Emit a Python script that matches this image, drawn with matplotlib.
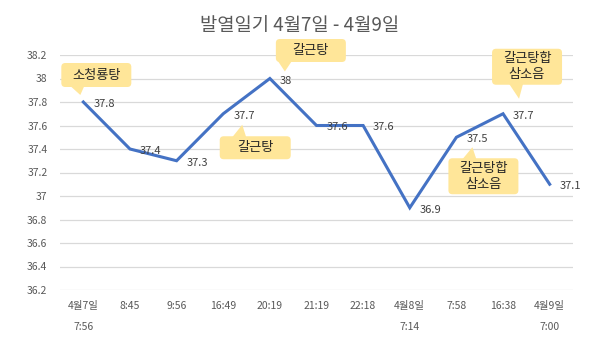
import matplotlib
matplotlib.use("Agg")
import matplotlib.pyplot as plt
from matplotlib.transforms import ScaledTranslation
from matplotlib.patches import FancyBboxPatch, Polygon

plt.rcParams['font.family'] = ['Noto Sans CJK KR', 'DejaVu Sans']

title = "발열일기 4월7일 - 4월9일"
categories = ["4월7일\n7:56", "8:45", "9:56", "16:49", "20:19", "21:19",
              "22:18", "4월8일\n7:14", "7:58", "16:38", "4월9일\n7:00"]
values = [37.8, 37.4, 37.3, 37.7, 38.0, 37.6, 37.6, 36.9, 37.5, 37.7, 37.1]
yticks = [36.2, 36.4, 36.6, 36.8, 37.0, 37.2, 37.4, 37.6, 37.8, 38.0, 38.2]
ytick_labels = ["36.2", "36.4", "36.6", "36.8", "37", "37.2", "37.4", "37.6", "37.8", "38", "38.2"]
value_labels = ["37.8", "37.4", "37.3", "37.7", "38", "37.6", "37.6", "36.9", "37.5", "37.7", "37.1"]

# callouts: (point index, text)
callout_idx = [0, 4, 3, 9, 8]
callout_text = ["소청룡탕", "갈근탕", "갈근탕", "갈근탕합\n삼소음", "갈근탕합\n삼소음"]
# layout of callouts, in pixels relative to their data point (y up)
callout_box_off = [(13, 27), (41, 28), (32, -34), (24, 47), (27, -39)]
callout_box_size = [(70, 24), (70, 23), (71, 23), (70, 36), (70, 36)]
callout_tip_off = [(-3, 7), (15, 7), (19, -11), (16, 15), (16, -10)]

fig = plt.figure(figsize=(6.0, 3.53), dpi=100)
ax = fig.add_axes([60/600, 1-290/353, 513/600, 235/353])

x = list(range(len(values)))
ax.plot(x, values, color="#4472C4", lw=2.2, zorder=3, solid_joinstyle="miter")

ax.set_xlim(-0.5, len(values) - 0.5)
ax.set_ylim(36.2, 38.2)
ax.set_yticks(yticks)
ax.set_yticklabels(ytick_labels)
ax.set_xticks(x)
ax.set_xticklabels(categories, linespacing=2.35)
ax.tick_params(axis='both', length=0, labelsize=7.5, labelcolor="#595959")
ax.tick_params(axis='y', pad=9)
ax.tick_params(axis='x', pad=8)
ax.yaxis.grid(True, color="#D9D9D9", lw=0.9)
ax.set_axisbelow(True)
for s in ax.spines.values():
    s.set_visible(False)

for xi, v, lab in zip(x, values, value_labels):
    ax.annotate(lab, xy=(xi, v), xytext=(10, -2), textcoords='offset pixels',
                ha='left', va='center', fontsize=8, color="#404040", zorder=4)

fill = '#FFE699'
for idx, txt, boff, bsz, toff in zip(callout_idx, callout_text, callout_box_off,
                                     callout_box_size, callout_tip_off):
    tr = ScaledTranslation(idx, values[idx], ax.transData)
    cx, cy = boff
    w, h = bsz
    box = FancyBboxPatch((cx - w/2, cy - h/2), w, h,
                         boxstyle='round,pad=0,rounding_size=4',
                         fc=fill, ec='none', transform=tr, zorder=6, clip_on=False)
    ax.add_patch(box)
    tx, ty = toff
    bc = min(max(tx - 3, cx - w/2 + 9), cx + w/2 - 9)
    edge = cy - h/2 + 1 if ty < cy else cy + h/2 - 1
    tri = Polygon([(bc - 7, edge), (bc + 7, edge), (tx, ty)], closed=True,
                  fc=fill, ec='none', transform=tr, zorder=6, clip_on=False)
    ax.add_patch(tri)
    ax.text(cx, cy, txt, transform=tr, ha='center', va='center', fontsize=9.5,
            color="#262626", linespacing=1.3, zorder=7)

fig.text(0.5, 1-25/353, title, ha='center', va='center', fontsize=13.5, color="#595959")

fig.savefig("out.png", dpi=100, facecolor="white")
